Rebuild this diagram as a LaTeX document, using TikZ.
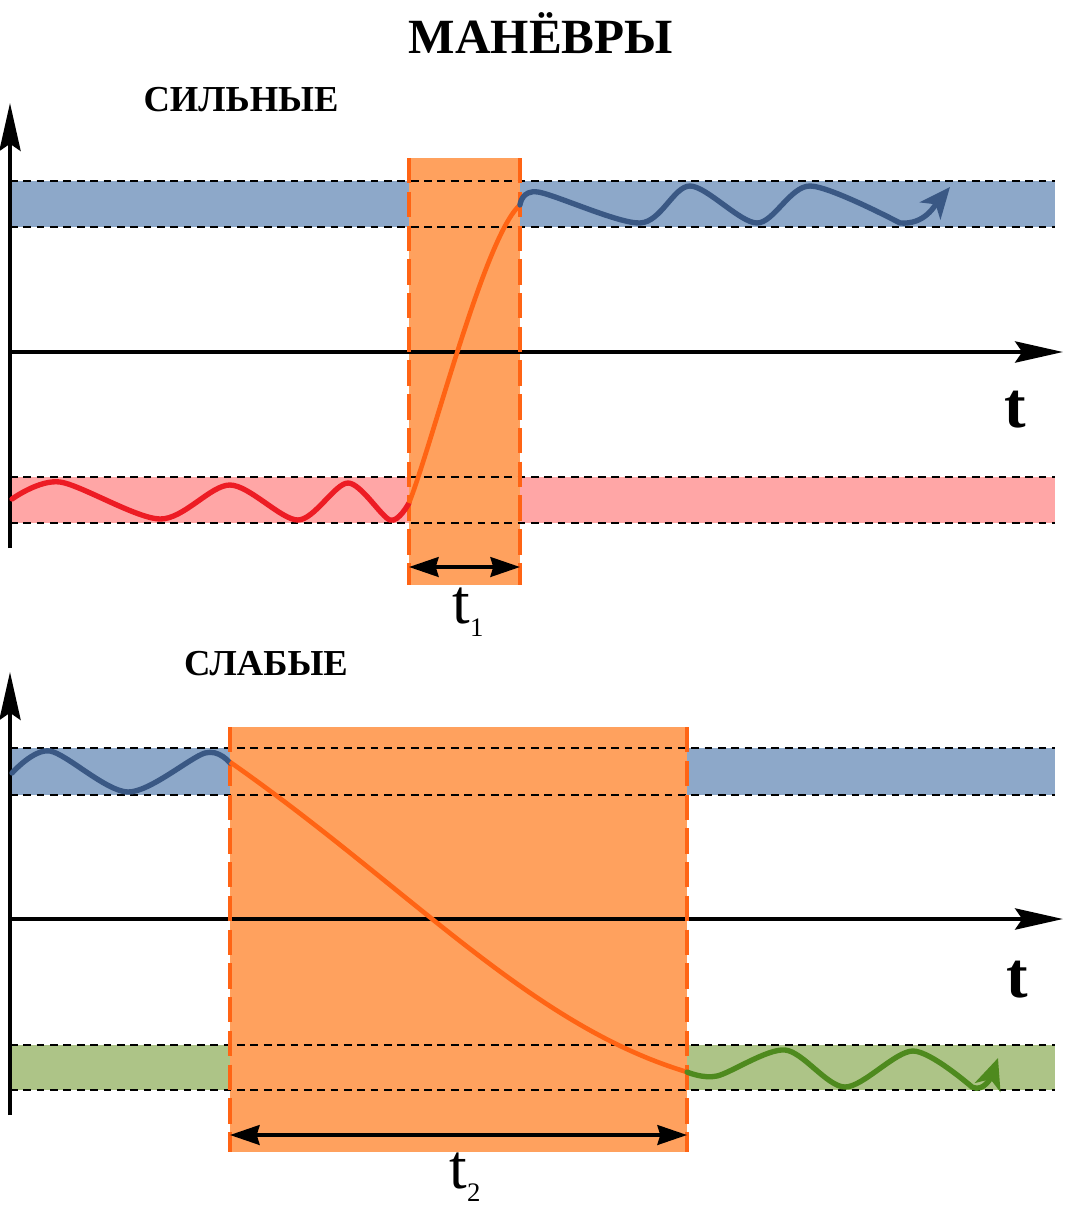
\documentclass[tikz,border=0pt]{standalone}
\usepackage{fontspec}
\setmainfont{Liberation Serif}
\usetikzlibrary{arrows.meta}

\definecolor{bandblue}{RGB}{141,168,201}
\definecolor{bandpink}{RGB}{255,166,166}
\definecolor{bandgreen}{RGB}{173,196,135}
\definecolor{zonefill}{RGB}{255,161,94}
\definecolor{zoneline}{RGB}{255,100,20}
\definecolor{waveblue}{RGB}{58,88,132}
\definecolor{wavered}{RGB}{237,28,36}
\definecolor{wavegreen}{RGB}{78,138,30}

\begin{document}
\begin{tikzpicture}[x=0.025cm, y=-0.025cm,
  axis/.style={line width=3.2pt, -{Stealth[length=34pt, width=15pt, inset=5pt]}},
  span/.style={line width=2.6pt, {Stealth[length=21pt, width=14pt, inset=2pt]}-{Stealth[length=21pt, width=14pt, inset=2pt]}},
  edge/.style={line width=0.8pt, dash pattern=on 5.5pt off 4pt},
  zoneedge/.style={zoneline, line width=2.4pt, dash pattern=on 18pt off 6pt},
  wave/.style={line width=3.8pt, line cap=round},
  wavetip/.style={-{Stealth[length=22pt, width=19pt, inset=6pt]}},
  transit/.style={zoneline, line width=3.3pt},
  head/.style={font=\fontsize{26}{30}\selectfont\bfseries},
  tlabel/.style={font=\fontsize{46}{50}\selectfont\bfseries},
  dur/.style={font=\fontsize{45}{50}\selectfont}]
  \useasboundingbox (0,0) rectangle (1078,1218);

  \node[font=\fontsize{35}{40}\selectfont\bfseries] (title) at (541,33) {МАНЁВРЫ};
  \node[head] (strong) at (241,100) {СИЛЬНЫЕ};
  \node[head] (weak) at (266,664) {СЛАБЫЕ};

  % strong
  \coordinate (sa) at (409,158);
  \coordinate (sb) at (520,585);
  \fill[bandblue] (10,181) rectangle (1055,227);
  \fill[bandpink] (10,477) rectangle (1055,523);
  \fill[zonefill] (sa) rectangle (sb);
  \foreach \y in {181,227,477,523}
    \draw[edge] (10,\y) -- (1055,\y);
  \coordinate (so) at (10,352);
  \draw[axis] (10,548) -- (10,103) coordinate (sy);
  \draw[axis] (so) -- (1063,352) coordinate (sx);
  \node[tlabel] (st) at (1015,410) {t};
  \draw[zoneedge] (409,158) -- (409,585);
  \draw[zoneedge] (520,158) -- (520,585);
  \draw[wave, wavered] plot[smooth] coordinates {(12,499) (60,482) (160,519) (230,485) (298,520) (348,483) (390,520) (409,503)};
  \draw[transit] (409,503) .. controls (432,445) and (485,235) .. (520,205);
  \draw[wave, waveblue, wavetip] plot[smooth] coordinates {(520,205) (538,192) (640,223) (690,186) (757,223) (810,186) (900,223)}
    .. controls (925,225) and (935,205) .. (950,187);
  \coordinate (s1) at (409,567);
  \coordinate (s2) at (520,567);
  \draw[span] (s1) -- (s2);
  \node[dur] (t1) at (468,612) {t\raisebox{-9pt}{\fontsize{19}{19}\selectfont 1}};

  % weak
  \coordinate (wa) at (230,727);
  \coordinate (wb) at (687,1152);
  \fill[bandblue] (10,748) rectangle (1055,795);
  \fill[bandgreen] (10,1045) rectangle (1055,1090);
  \fill[zonefill] (wa) rectangle (wb);
  \foreach \y in {748,795,1045,1090}
    \draw[edge] (10,\y) -- (1055,\y);
  \coordinate (wo) at (10,919);
  \draw[axis] (10,1115) -- (10,672) coordinate (wy);
  \draw[axis] (wo) -- (1063,919) coordinate (wx);
  \node[tlabel] (wt) at (1017,980) {t};
  \draw[zoneedge] (230,727) -- (230,1152);
  \draw[zoneedge] (687,727) -- (687,1152);
  \draw[wave, waveblue] plot[smooth] coordinates {(12,773) (50,751) (128,792) (205,753) (230,763)};
  \draw[transit] (230,762) .. controls (410,888) and (530,1025) .. (687,1072);
  \draw[wave, wavegreen, wavetip] plot[smooth] coordinates {(687,1072) (717,1076) (785,1050) (845,1087) (913,1051) (972,1087)}
    .. controls (984,1093) and (992,1075) .. (998,1058);
  \coordinate (w1) at (230,1135);
  \coordinate (w2) at (687,1135);
  \draw[span] (w1) -- (w2);
  \node[dur] (t2) at (465,1177) {t\raisebox{-9pt}{\fontsize{19}{19}\selectfont 2}};
\end{tikzpicture}
\end{document}
